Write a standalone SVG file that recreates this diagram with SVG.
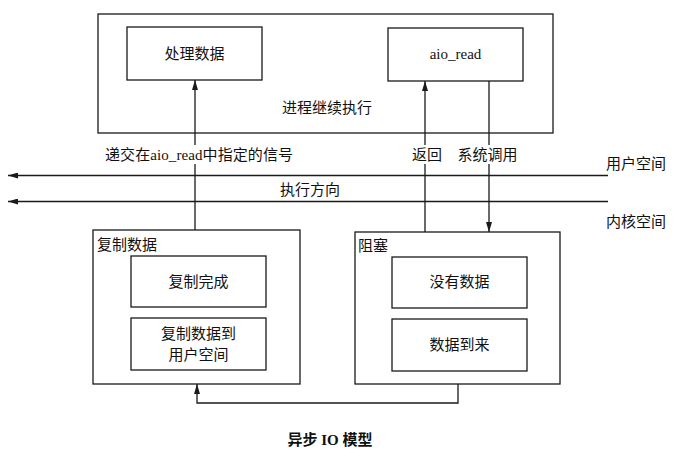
<svg xmlns="http://www.w3.org/2000/svg" width="675" height="456" viewBox="0 0 675 456">
<style>
.box{fill:#fff;stroke:#1a1a1a;stroke-width:1.3}
.ln{fill:none;stroke:#1a1a1a;stroke-width:1.3}
.t{font-family:"Liberation Serif","Noto Sans CJK SC",serif;font-size:15px;fill:#111;dominant-baseline:central}
.c{text-anchor:middle}
.bg{fill:#fff;stroke:none}
.cap{font-weight:bold}
</style>
<defs>
<marker id="ah" viewBox="0 0 10 6" refX="10" refY="3" markerWidth="10" markerHeight="6" markerUnits="userSpaceOnUse" orient="auto">
<path d="M0,0 L10,3 L0,6 z" fill="#1a1a1a"/>
</marker>
</defs>
<g id="process">
<rect class="box" x="98" y="14" width="455" height="119"/>
<text class="t c" x="327" y="108">进程继续执行</text>
</g>
<g id="handle">
<rect class="box" x="127" y="27" width="135" height="53"/>
<text class="t c" x="194.5" y="54">处理数据</text>
</g>
<g id="aioread">
<rect class="box" x="388" y="28" width="135" height="53"/>
<text class="t c" x="455.5" y="54">aio_read</text>
</g>
<g id="copy">
<rect class="box" x="93" y="230" width="207" height="154"/>
<text class="t" x="97" y="245">复制数据</text>
</g>
<g id="copydone">
<rect class="box" x="131" y="256" width="135" height="51"/>
<text class="t c" x="198.5" y="282">复制完成</text>
</g>
<g id="copytouser">
<rect class="box" x="131" y="318" width="135" height="52"/>
<text class="t c" x="198.5" y="334">复制数据到</text>
<text class="t c" x="198.5" y="355">用户空间</text>
</g>
<g id="block">
<rect class="box" x="355" y="232" width="205" height="152"/>
<text class="t" x="358" y="246">阻塞</text>
</g>
<g id="nodata">
<rect class="box" x="392" y="257" width="135" height="51"/>
<text class="t c" x="459.5" y="282">没有数据</text>
</g>
<g id="dataarrive">
<rect class="box" x="392" y="319" width="135" height="52"/>
<text class="t c" x="459.5" y="345">数据到来</text>
</g>
<g id="connectors">
<path class="ln" d="M608,175.5 H8" marker-end="url(#ah)"/>
<path class="ln" d="M608,201.5 H8" marker-end="url(#ah)"/>
<path class="ln" d="M195,230 V80" marker-end="url(#ah)"/>
<path class="ln" d="M425,232 V81" marker-end="url(#ah)"/>
<path class="ln" d="M489,81 V232" marker-end="url(#ah)"/>
<path class="ln" d="M458,384 V403 H197 V384" marker-end="url(#ah)"/>
</g>
<g id="labels">
<rect class="bg" x="103" y="145" width="192" height="19"/>
<text class="t" x="105" y="155" textLength="188" lengthAdjust="spacing">递交在aio_read中指定的信号</text>
<rect class="bg" x="410" y="145" width="34" height="19"/>
<text class="t c" x="427" y="155">返回</text>
<rect class="bg" x="456" y="145" width="63" height="19"/>
<text class="t c" x="487.5" y="155">系统调用</text>
<text class="t c" x="636" y="164">用户空间</text>
<text class="t c" x="310" y="190">执行方向</text>
<text class="t c" x="636" y="222">内核空间</text>
<text class="t c cap" x="330" y="440">异步 IO 模型</text>
</g>
</svg>
